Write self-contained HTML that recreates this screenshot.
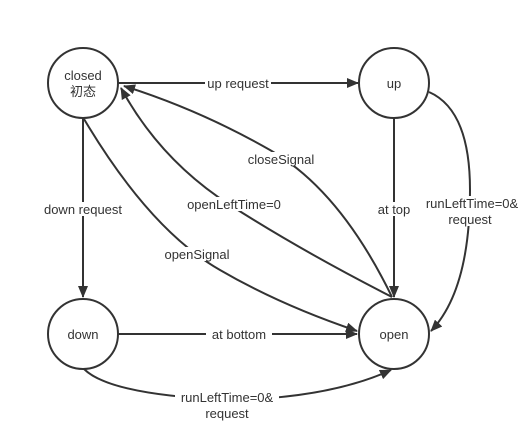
<!DOCTYPE html>
<html><head><meta charset="utf-8"><style>
html,body{margin:0;padding:0;background:#fff;}
svg{display:block;}
text{font-family:"Liberation Sans","Noto Sans CJK SC",sans-serif;font-size:13px;fill:#333;}
</style></head><body>
<svg width="519" height="448" viewBox="0 0 519 448" xmlns="http://www.w3.org/2000/svg">
<defs>
<marker id="a" markerWidth="12" markerHeight="10" refX="11" refY="5" orient="auto" markerUnits="userSpaceOnUse">
<path d="M0,0 L12,5 L0,10 Z" fill="#333"/>
</marker>
</defs>
<g fill="none" stroke="#333" stroke-width="2">
<circle cx="83" cy="83" r="35"/>
<circle cx="394" cy="83" r="35"/>
<circle cx="83" cy="334" r="35"/>
<circle cx="394" cy="334" r="35"/>
<line x1="118" y1="83" x2="358" y2="83" marker-end="url(#a)"/>
<line x1="83" y1="118" x2="83" y2="297" marker-end="url(#a)"/>
<line x1="394" y1="118" x2="394" y2="297" marker-end="url(#a)"/>
<line x1="118" y1="334" x2="357" y2="334" marker-end="url(#a)"/>
<path d="M84,119 Q150,230 220,270 Q280,305 357,331" marker-end="url(#a)"/>
<path d="M392,297 Q300,250 230,205 Q160,160 121,88" marker-end="url(#a)"/>
<path d="M392,297 Q340,190 270,150 Q200,110 124,86" marker-end="url(#a)"/>
<path d="M429,92 Q470,110 470,190 Q470,290 431,331" marker-end="url(#a)"/>
<path d="M84,369 Q110,395 230,400 Q330,398 391,370" marker-end="url(#a)"/>
</g>
<g text-anchor="middle">
<rect x="205" y="76" width="66" height="14" fill="#fff"/>
<text x="238" y="88">up request</text>
<rect x="40" y="202" width="86" height="14" fill="#fff"/>
<text x="83" y="214">down request</text>
<rect x="246" y="152" width="70" height="14" fill="#fff"/>
<text x="281" y="164">closeSignal</text>
<rect x="182" y="197" width="104" height="14" fill="#fff"/>
<text x="234" y="209">openLeftTime=0</text>
<rect x="163" y="247" width="68" height="14" fill="#fff"/>
<text x="197" y="259">openSignal</text>
<rect x="375" y="202" width="38" height="14" fill="#fff"/>
<text x="394" y="214">at top</text>
<rect x="417" y="196" width="102" height="30" fill="#fff"/>
<text x="472" y="208">runLeftTime=0&amp;</text>
<text x="470" y="224">request</text>
<rect x="206" y="327" width="66" height="14" fill="#fff"/>
<text x="239" y="339">at bottom</text>
<rect x="175" y="390" width="104" height="30" fill="#fff"/>
<text x="227" y="402">runLeftTime=0&amp;</text>
<text x="227" y="418">request</text>
<text x="83" y="80">closed</text>
<text x="83" y="96">初态</text>
<text x="394" y="88">up</text>
<text x="83" y="339">down</text>
<text x="394" y="339">open</text>
</g>
</svg>
</body></html>
